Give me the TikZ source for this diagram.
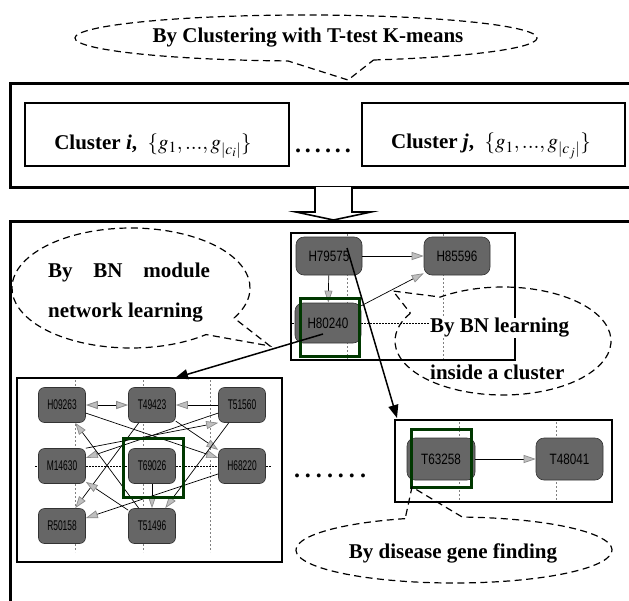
\documentclass[tikz,border=0pt]{standalone}
\usepackage{mathptmx}
\usepackage{fontspec}
\setmainfont{Liberation Serif}
\newfontfamily\nodefont[FakeStretch=0.78]{Liberation Sans}
\newfontfamily\modfont[FakeStretch=0.6]{Liberation Sans}
\usetikzlibrary{arrows.meta}
\begin{document}
\begin{tikzpicture}[x=1pt,y=-1pt,
  thickbox/.style={line width=3pt},
  clbox/.style={draw, line width=1.4pt, inner sep=0pt},
  callout/.style={draw, dash pattern=on 7pt off 4.5pt, line width=1.2pt},
  ctext/.style={font=\fontsize{21}{25}\selectfont\bfseries, inner sep=0pt},
  dottext/.style={font=\fontsize{24}{24}\selectfont\bfseries, inner sep=0pt},
  shot/.style={draw, line width=1.3pt, fill=white},
  bnnode/.style={draw=black!80, line width=0.6pt, fill=black!60, rounded corners=8pt, minimum width=66pt, minimum height=38pt, inner sep=0pt, text=black, font=\nodefont\fontsize{15}{15}\selectfont},
  mnode/.style={draw=black!80, line width=0.6pt, fill=black!60, rounded corners=6pt, minimum width=47pt, minimum height=35pt, inner sep=0pt, text=black, font=\modfont\fontsize{14}{14}\selectfont},
  greenbox/.style={draw=green!22!black, line width=3pt},
  guide/.style={draw=gray, dash pattern=on 2pt off 2pt, line width=0.5pt},
  hguide/.style={draw=black, dash pattern=on 1.5pt off 1.5pt, line width=0.5pt},
  gtip/.tip={Triangle[length=12pt,width=8pt,color=black!45,fill=black!25]},
  gedge/.style={draw=black, line width=0.7pt, -gtip},
  gboth/.style={draw=black, line width=0.9pt, gtip-gtip},
  bigarrow/.style={line width=1.5pt, -{Triangle[length=13pt,width=10pt]}},
]
\useasboundingbox (0,0) rectangle (629,600);
\clip (0,0) rectangle (629,600);

% ---------- top callout ----------
\draw[callout] (306,38) ++(287:231pt and 23pt) arc[start angle=287,end angle=625.5,x radius=231pt,y radius=23pt] -- (348,80) -- cycle;
\node[ctext] (ttop) at (308,38) {By Clustering with T-test K-means};

% ---------- top box ----------
\draw[thickbox] (10,83) rectangle (645,187);
\node[clbox, minimum width=264pt, minimum height=63pt] (ci) at (157,134.5) {};
\node[ctext] (cit) at (153,146) {Cluster \textit{i},\enspace$\{g_1,...,g_{|c_i|}\}$};
\node[dottext] (dots1) at (323,151) {.\kern4pt.\kern4pt.\kern4pt.\kern4pt.\kern4pt.};
\node[clbox, minimum width=263pt, minimum height=63pt] (cj) at (493.5,134.5) {};
\node[ctext] (cjt) at (491,146) {Cluster \textit{j},\enspace$\{g_1,...,g_{|c_j|}\}$};

% hollow arrow
\draw[line width=1.6pt, fill=white] (315,187) -- (315,212) -- (296,212) -- (333.5,220) -- (371,212) -- (352,212) -- (352,187);

% ---------- bottom box ----------
\draw[thickbox] (10,221) rectangle (645,640);

% top BN screenshot
\draw[shot] (291,233) rectangle (515,360);
\draw[guide] (347,234) -- (347,359);
\draw[guide] (443,234) -- (443,359);
\draw[hguide] (292,323) -- (514,323);
\node[bnnode] (h79) at (329,256) {H79575};
\node[bnnode] (h85) at (457,256) {H85596};
\node[bnnode, minimum height=40pt] (h80) at (328,323) {H80240};
\draw[gedge] (h79) -- (h85);
\draw[gedge] (h79) -- (h80);
\draw[gedge] (h80) -- (h85);
\draw[greenbox] (300,298) rectangle (359,356);

% module network screenshot
\draw[shot] (17,378) rectangle (282,562);
\draw[guide] (75,380) -- (75,552);
\draw[guide] (143,380) -- (143,552);
\draw[guide] (210,380) -- (210,552);
\draw[hguide] (35,466) -- (272,466);
\node[mnode] (m1) at (62,405) {H09263};
\node[mnode] (m2) at (152,405) {T49423};
\node[mnode] (m3) at (242,405) {T51560};
\node[mnode] (m4) at (62,466) {M14630};
\node[mnode] (m5) at (152,466) {T69026};
\node[mnode] (m6) at (242,466) {H68220};
\node[mnode] (m7) at (62,526) {R50158};
\node[mnode] (m8) at (152,526) {T51496};
\draw[gboth] (m1) -- (m2);
\draw[gedge] (m3) -- (m2);
\draw[gedge] (m1) -- (m6);
\draw[gedge] (m2) -- (m6);
\draw[gedge] (m3) -- (m4);
\draw[gedge] (m4.north east) -- (m3.south west);
\draw[gedge] (m2) -- (m7);
\draw[gedge] (m8) -- (m1);
\draw[gedge] (m8) -- (m4);
\draw[gedge] (m6) -- (m7);
\draw[gedge] (m5) -- (m8);
\draw[gedge] (m3) -- (m8);
\draw[greenbox] (123,438) rectangle (183,497);

% disease gene screenshot
\draw[shot] (395,420) rectangle (612,502);
\draw[guide] (459,422) -- (459,500);
\draw[guide] (556,422) -- (556,500);
\node[bnnode, minimum width=68pt, minimum height=42pt] (t63) at (441,459) {T63258};
\node[bnnode, minimum width=67pt, minimum height=42pt] (t48) at (569.5,459) {T48041};
\draw[gedge] (t63) -- (t48);
\draw[greenbox] (411,429) rectangle (471,487);

\node[dottext] (dots2) at (330,476) {.\kern5pt.\kern5pt.\kern5pt.\kern5pt.\kern5pt.\kern5pt.};

% big arrows
\coordinate (a1) at ([xshift=18pt,yshift=8pt]h79.center);
\coordinate (a1end) at (397,418);
\draw[bigarrow] (a1) -- (a1end);
\coordinate (a2) at ([xshift=-5pt,yshift=-11pt]h80.center);
\coordinate (a2end) at (175,378);
\draw[bigarrow] (a2) -- (a2end);

% callout: BN learning inside a cluster
\draw[callout] (503,341) ++(149:108pt and 54pt) arc[start angle=149,end angle=485.5,x radius=108pt,y radius=54pt] -- (393,291) -- cycle;
\node[ctext, anchor=west, fill=white] (c2a) at (430,328) {By BN learning};
\node[ctext, anchor=west] (c2b) at (430,372) {inside a cluster};

% callout: BN module network learning
\draw[callout] (131,288) ++(330:119pt and 60pt) arc[start angle=330,end angle=669.1,x radius=119pt,y radius=60pt] -- (270,346) -- cycle;
\node[ctext] (c3a) at (129,272) {\makebox[162pt][s]{By BN module}};
\node[ctext, anchor=west] (c3b) at (48,313) {network learning};

% callout: disease gene finding
\draw[callout] (454,550) ++(108:158pt and 33pt) arc[start angle=108,end angle=447,x radius=158pt,y radius=33pt] -- (412,487) -- cycle;
\node[ctext] (c4) at (453,553) {By disease gene finding};
\end{tikzpicture}
\end{document}
